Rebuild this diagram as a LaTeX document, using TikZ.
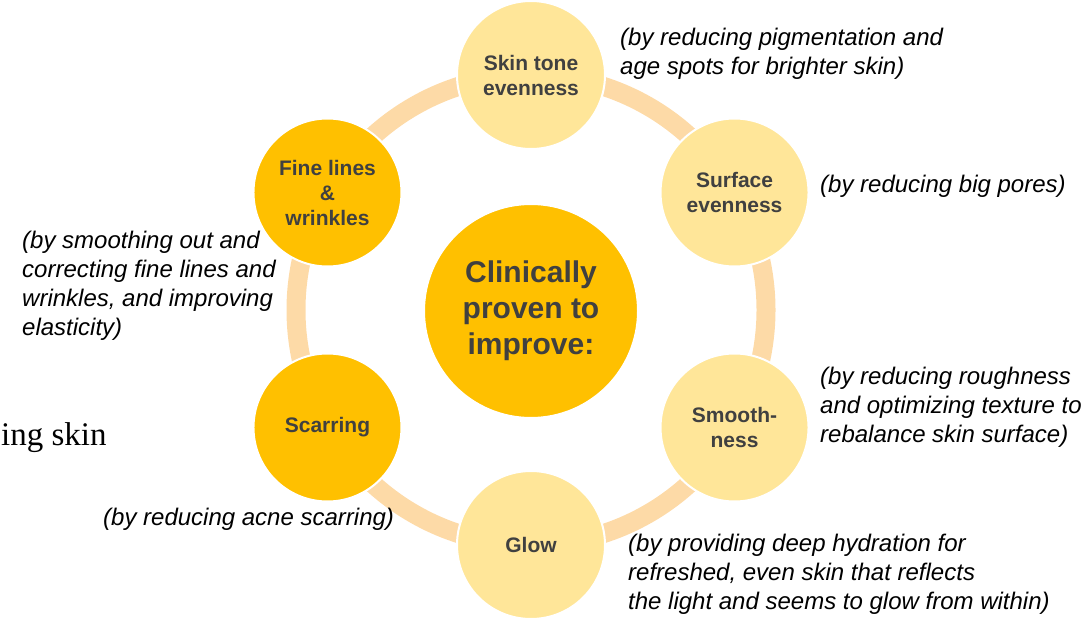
\documentclass[tikz,border=0pt]{standalone}
\usepackage{fontspec}
\setmainfont{Liberation Sans}
\newfontfamily\bookfont{Liberation Serif}
\usepackage{xcolor}
\usepackage{tikz}
\usetikzlibrary{positioning}
\definecolor{ringpeach}{RGB}{253,218,167}
\definecolor{goldlight}{RGB}{255,230,153}
\definecolor{golddark}{RGB}{255,192,0}
\definecolor{labelgrey}{RGB}{64,64,64}
\newcommand{\ringradius}{235pt}

\begin{document}
\begin{tikzpicture}[x=1pt, y=-1pt,
  bubble/.style={circle, draw=white, line width=2pt,
    minimum size=148pt, inner sep=0pt, align=center, text=labelgrey,
    font=\fontsize{21}{25}\selectfont\bfseries},
  note/.style={anchor=west, align=left, inner sep=0pt,
    font=\fontsize{24}{29}\selectfont\itshape}]

\useasboundingbox (0,0) rectangle (1081,620);

% Ring
\coordinate (hub) at (531,310);
\draw[ringpeach, line width=19pt] (hub) circle[radius=\ringradius];

% Centre
\node[circle, draw=white, line width=2pt,
  minimum size=214pt, inner sep=0pt,
  fill=golddark, text=labelgrey, align=center,
  font=\fontsize{30}{36}\selectfont\bfseries] (Core) at (531,311)
  {Clinically\\proven to\\improve:};

% Bubbles round the ring
\foreach \name/\a/\col/\txt in {
  Tone/90/goldlight/{Skin tone\\evenness},
  Surface/30/goldlight/{Surface\\evenness},
  Smooth/-30/goldlight/{Smooth-\\ness},
  Glow/-90/goldlight/{Glow},
  Scar/210/golddark/{Scarring},
  Lines/150/golddark/{Fine lines\\\&\\wrinkles}}
{
  \node[bubble, fill=\col] (\name) at ([shift={(\a:\ringradius)}]hub) {\txt};
}

% Notes
\node[note] (Tone-note) at (620,54)
  {(by reducing pigmentation and\\age spots for brighter skin)};
\node[note] (Surface-note) at (820,186) {(by reducing big pores)};
\node[note] (Smooth-note) at (820,407)
  {(by reducing roughness\\and optimizing texture to\\rebalance skin surface)};
\node[note] (Glow-note) at (628,574)
  {(by providing deep hydration for\\refreshed, even skin that reflects\\the light and seems to glow from within)};
\node[note] (Scar-note) at (103,519) {(by reducing acne scarring)};
\node[note] (Lines-note) at (22,286)
  {(by smoothing out and\\correcting fine lines and\\wrinkles, and improving\\elasticity)};

% Leftover text at the edge
\node[anchor=base west, inner sep=0pt,
  font=\bookfont\fontsize{33}{39}\selectfont] (Edge) at (1,445) {ing skin};

\end{tikzpicture}
\end{document}
